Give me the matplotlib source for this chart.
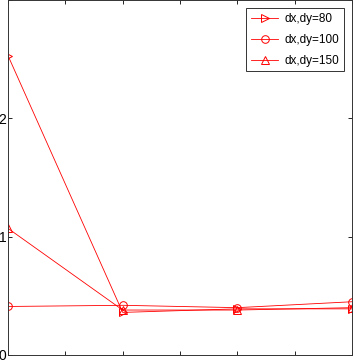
import numpy as np
import matplotlib
matplotlib.use("Agg")
import matplotlib.pyplot as plt

plt.rcParams['font.family'] = ['Liberation Sans', 'DejaVu Sans']

x = [0, 2, 4, 6]
y80 = [2.53, 0.36, 0.39, 0.39]
y100 = [0.41, 0.42, 0.40, 0.45]
y150 = [1.07, 0.38, 0.38, 0.40]
labels = ['dx,dy=80', 'dx,dy=100', 'dx,dy=150']

fig = plt.figure(figsize=(3.55, 3.62), dpi=100)
ax = fig.add_axes([8 / 355, 7 / 362, 344 / 355, 355 / 362])

ax.plot(x, y80, color='red', lw=0.6, marker='>', ms=6, mfc='none', mew=0.7, label=labels[0])
ax.plot(x, y100, color='red', lw=0.6, marker='o', ms=5.5, mfc='none', mew=0.7, label=labels[1])
ax.plot(x, y150, color='red', lw=0.6, marker='^', ms=6, mfc='none', mew=0.7, label=labels[2])

ax.set_xlim(0, 6)
ax.set_ylim(0, 3)
ax.set_xticks(np.arange(0, 7, 1))
ax.set_xticklabels([])
ax.set_yticks([0, 1, 2, 3])
ax.set_yticklabels(['0', '1', '2', ''])
ax.tick_params(direction='in', top=True, right=True, length=3, width=0.6, labelsize=10, pad=1)
for s in ax.spines.values():
    s.set_linewidth(0.7)
    s.set_color('#333333')

leg = ax.legend(loc='upper right', fontsize=8.5, frameon=True, fancybox=False,
                edgecolor='black', borderaxespad=0.7, handlelength=2.3,
                labelspacing=0.75, borderpad=0.4, handletextpad=0.5)
leg.get_frame().set_linewidth(0.7)

fig.savefig('out.png', dpi=100)
